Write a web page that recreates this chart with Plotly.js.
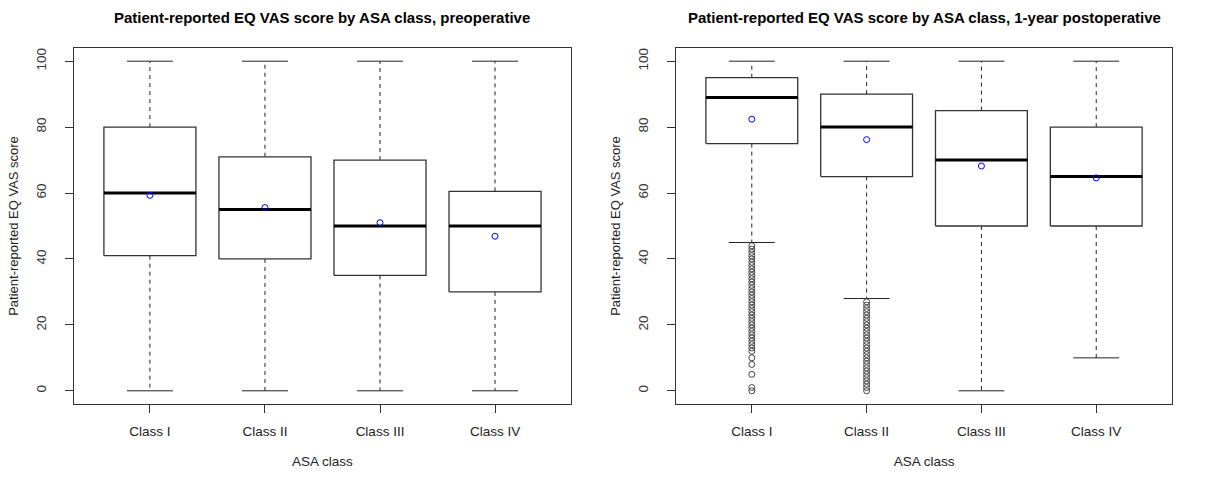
<!DOCTYPE html>
<html>
<head>
<meta charset="utf-8">
<script src="https://cdn.plot.ly/plotly-3.0.1.min.js"></script>
<style>html,body{margin:0;padding:0;background:#fff;}#chart{width:1205px;height:479px;}</style>
</head>
<body>
<div id="chart"></div>
<script>
// ---- data ----
const categories = ["Class I", "Class II", "Class III", "Class IV"];
const panelTitles = ["Patient-reported EQ VAS score by ASA class, preoperative",
                     "Patient-reported EQ VAS score by ASA class, 1-year postoperative"];
const yTicks = [0, 20, 40, 60, 80, 100];

// preoperative
const preQ1     = [41, 40, 35, 30];
const preMedian = [60, 55, 50, 50];
const preQ3     = [80, 71, 70, 60.5];
const preLow    = [0, 0, 0, 0];
const preHigh   = [100, 100, 100, 100];
const preMean   = [59.3, 55.6, 51.0, 46.9];
const preOutliers = [[], [], [], []];

// 1-year postoperative
const postQ1     = [75, 65, 50, 50];
const postMedian = [89, 80, 70, 65];
const postQ3     = [95, 90, 85, 80];
const postLow    = [45, 28, 0, 10];
const postHigh   = [100, 100, 100, 100];
const postMean   = [82.4, 76.2, 68.2, 64.6];
const postOutliersI  = [0, 1, 5, 8, 10, 12, 13, 14, 15, 16, 17, 18, 19, 20, 21, 22, 23, 24, 25, 26, 27, 28, 29, 30,
                        31, 32, 33, 34, 35, 36, 37, 38, 39, 40, 41, 42, 43, 44];
const postOutliersII = [0, 1, 2, 3, 4, 5, 6, 7, 8, 9, 10, 11, 12, 13, 14, 15, 16, 17, 18, 19, 20, 21, 22, 23, 24, 25, 26, 27];
const postOutliers = [postOutliersI, postOutliersII, [], []];

// ---- build ----
const HW = 0.4;   // half box width
const CW = 0.2;   // half cap width
const traces = [];
function panel(q1, med, q3, lo, hi, mean, outs, xa, ya) {
  const bx = [], by = [], mx = [], my = [], wx = [], wy = [], cx = [], cy = [], ox = [], oy = [];
  for (let i = 0; i < categories.length; i++) {
    const p = i + 1;
    bx.push(p - HW, p + HW, p + HW, p - HW, p - HW, null);
    by.push(q1[i], q1[i], q3[i], q3[i], q1[i], null);
    mx.push(p - HW, p + HW, null);
    my.push(med[i], med[i], null);
    wx.push(p, p, null, p, p, null);
    wy.push(q3[i], hi[i], null, q1[i], lo[i], null);
    cx.push(p - CW, p + CW, null, p - CW, p + CW, null);
    cy.push(hi[i], hi[i], null, lo[i], lo[i], null);
    outs[i].forEach(v => { ox.push(p); oy.push(v); });
  }
  const common = {xaxis: xa, yaxis: ya, hoverinfo: 'skip', showlegend: false, type: 'scatter'};
  traces.push(Object.assign({x: wx, y: wy, mode: 'lines', line: {color: '#222', width: 1, dash: '4px,4px'}}, common));
  traces.push(Object.assign({x: cx, y: cy, mode: 'lines', line: {color: '#222', width: 1}}, common));
  traces.push(Object.assign({x: bx, y: by, mode: 'lines', line: {color: '#333', width: 1.3}}, common));
  traces.push(Object.assign({x: mx, y: my, mode: 'lines', line: {color: '#000', width: 3}}, common));
  traces.push(Object.assign({x: ox, y: oy, mode: 'markers',
    marker: {symbol: 'circle-open', size: 6, color: '#444', line: {width: 1, color: '#444'}}}, common));
  traces.push(Object.assign({x: categories.map((c, i) => i + 1), y: mean, mode: 'markers',
    marker: {symbol: 'circle-open', size: 6, color: '#0000ff', line: {width: 1, color: '#0000ff'}}}, common));
}
panel(preQ1, preMedian, preQ3, preLow, preHigh, preMean, preOutliers, 'x', 'y');
panel(postQ1, postMedian, postQ3, postLow, postHigh, postMean, postOutliers, 'x2', 'y2');

const font = {family: 'Liberation Sans, Arial, sans-serif', size: 13, color: '#222'};
function xAxis(domain, anchor) {
  return {domain: domain, anchor: anchor, range: [0.34, 4.66], tickvals: [1, 2, 3, 4], ticktext: categories,
    showline: true, mirror: true, linecolor: '#333', linewidth: 1, ticks: 'outside', ticklen: 8, tickcolor: '#333',
    showgrid: false, zeroline: false, tickfont: {size: 13.5, color: '#222'}, ticklabelstandoff: 7,
    title: {text: 'ASA class', font: {size: 13.5, color: '#222'}, standoff: 18}};
}
function yAxis(anchor) {
  return {domain: [0, 1], anchor: anchor, range: [-4, 104], tickvals: yTicks, ticktext: yTicks.map(String),
    showline: true, mirror: true, linecolor: '#333', linewidth: 1, ticks: 'outside', ticklen: 8, tickcolor: '#333',
    showgrid: false, zeroline: false, tickangle: -90, tickfont: {size: 13.5, color: '#333'}, ticklabelstandoff: 14,
    title: {text: 'Patient-reported EQ VAS score', font: {size: 13, color: '#222'}, standoff: 12}};
}
const layout = {
  width: 1205, height: 479,
  margin: {l: 74, r: 33, t: 48, b: 75},
  paper_bgcolor: '#fff', plot_bgcolor: '#fff',
  font: font,
  xaxis: xAxis([0, 0.4526], 'y'),
  yaxis: yAxis('x'),
  xaxis2: xAxis([0.5483, 1], 'y2'),
  yaxis2: yAxis('x2'),
  annotations: [
    {text: '<b>' + panelTitles[0] + '</b>', xref: 'paper', yref: 'paper', x: 0.2263, y: 1, yshift: 31,
     xanchor: 'center', yanchor: 'middle', showarrow: false, font: {size: 15, color: '#000'}},
    {text: '<b>' + panelTitles[1] + '</b>', xref: 'paper', yref: 'paper', x: 0.7742, y: 1, yshift: 31,
     xanchor: 'center', yanchor: 'middle', showarrow: false, font: {size: 15, color: '#000'}}
  ]
};
Plotly.newPlot('chart', traces, layout, {displayModeBar: false, staticPlot: true});
</script>
</body>
</html>
